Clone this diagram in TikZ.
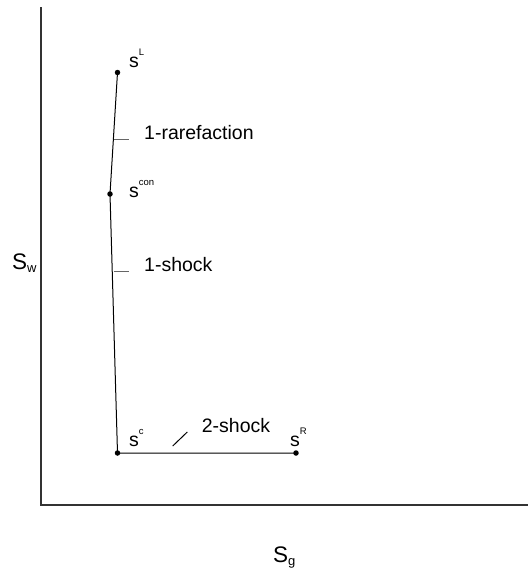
\documentclass[tikz,border=0pt]{standalone}
\usepackage{fontspec}
\setmainfont{Liberation Sans}
\usepackage{tikz}
\usetikzlibrary{positioning}
\usetikzlibrary{calc}

\tikzset{
	zustand/.style={circle, fill=black, inner sep=0pt, minimum size=5.5pt},
	marke/.style={font=\fontsize{19.5}{19.5}\selectfont, inner sep=0pt, anchor=base west},
	wellenname/.style={font=\fontsize{19.5}{19.5}\selectfont, inner sep=0pt, anchor=base west},
	achsenname/.style={font=\fontsize{22.5}{22.5}\selectfont, inner sep=0pt, anchor=base west},
	strich/.style={black!60, line width=1pt}
}

\newcommand{\hoch}[1]{\raisebox{1.1ex}{\fontsize{9.5}{9.5}\selectfont #1}}
\newcommand{\tief}[1]{\raisebox{-0.3ex}{\fontsize{13}{13}\selectfont #1}}

\begin{document}
\begin{tikzpicture}[x=1pt, y=-1pt]
		\useasboundingbox (0,0) rectangle (528,574);

		%Achsen
		\coordinate (O) at (41,505);
		\coordinate (Oben) at (41,7);
		\coordinate (Rechts) at (528,505);
		\draw [line width=1.6pt, black!80] (Oben) -- (O) -- (Rechts);

		%Achsenbeschriftung
		\node [achsenname] (Sw) at (12,269) {S\tief{w}};
		\node [achsenname] (Sg) at (273,562) {S\tief{g}};

		%Zustaende
		\node [zustand] (sL) at (117.5,72.5) {};
		\node [zustand] (scon) at (110,194) {};
		\node [zustand] (sc) at (117.5,453) {};
		\node [zustand] (sR) at (296,453) {};

		%Wellenkurve
		\draw [line width=1pt] (sL.center) -- (scon.center) -- (sc.center) -- (sR.center);

		%Namen der Zustaende
		\node [marke] (lsL) at (129,67) {s\hoch{L}};
		\node [marke] (lscon) at (129,197) {s\hoch{con}};
		\node [marke] (lsc) at (129,446) {s\hoch{c}};
		\node [marke] (lsR) at (290,446) {s\hoch{R}};

		%Wellen mit Strich
		\coordinate (r1) at (114,139);
		\coordinate (r2) at (129,139);
		\draw [strich] (r1) -- (r2);
		\node [wellenname] (rare) at (144,139) {1-rarefaction};

		\coordinate (k1) at (114,271);
		\coordinate (k2) at (129,271);
		\draw [strich] (k1) -- (k2);
		\node [wellenname] (stoss1) at (144,271) {1-shock};

		\coordinate (z1) at (172.7,446);
		\coordinate (z2) at (187.3,432);
		\draw [line width=1pt] (z1) -- (z2);
		\node [wellenname] (stoss2) at (201.7,432) {2-shock};
\end{tikzpicture}
\end{document}
